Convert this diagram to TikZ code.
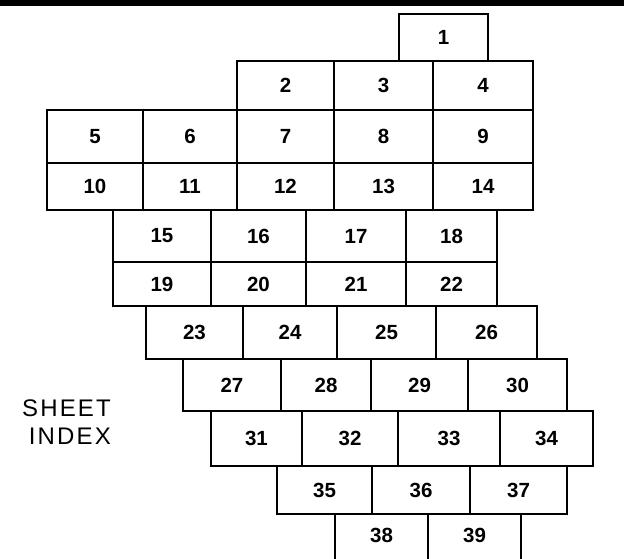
\documentclass[tikz,border=0pt]{standalone}
\usepackage{fontspec}
\setmainfont{Liberation Sans}
\begin{document}
\begin{tikzpicture}[x=1pt,y=-1pt,
  cell/.style={draw, line width=2.2pt, rectangle, inner sep=0pt, outer sep=0pt,
    font=\fontsize{20.5}{20.5}\selectfont\bfseries},
  opencell/.style={cell, draw=none},
  frame/.style={line width=2.2pt, line join=miter},
  label/.style={font=\fontsize{24}{28}\selectfont\addfontfeatures{LetterSpace=9}, align=right, inner sep=0pt}]
\useasboundingbox[fill=white] (0,0) rectangle (624,558);
\fill[black] (0,0) rectangle (624,6);
\newcommand{\sheetcell}[6][cell]{%
  \node[#1, minimum width={(#4-#3)*1pt}, minimum height={(#6-#5)*1pt}]
    (s#2) at ({(#3+#4)/2},{(#5+#6)/2}) {#2};}
% row 1
\sheetcell{1}{399}{488}{14}{61}
% row 2
\foreach \n/\a/\b in {2/237/334, 3/334/433, 4/433/533}
  {\sheetcell{\n}{\a}{\b}{61}{110}}
% rows 3 and 4
\foreach \n/\a/\b in {5/47/143, 6/143/237, 7/237/334, 8/334/433, 9/433/533}
  {\sheetcell{\n}{\a}{\b}{110}{163}}
\foreach \n/\a/\b in {10/47/143, 11/143/237, 12/237/334, 13/334/433, 14/433/533}
  {\sheetcell{\n}{\a}{\b}{163}{210}}
% rows 5 and 6
\foreach \n/\a/\b in {15/113/211, 16/211/306, 17/306/406, 18/406/497}
  {\sheetcell{\n}{\a}{\b}{210}{262}}
\foreach \n/\a/\b in {19/113/211, 20/211/306, 21/306/406, 22/406/497}
  {\sheetcell{\n}{\a}{\b}{262}{306}}
% row 7
\foreach \n/\a/\b in {23/146/243, 24/243/337, 25/337/436, 26/436/537}
  {\sheetcell{\n}{\a}{\b}{306}{359}}
% row 8
\foreach \n/\a/\b in {27/183/281, 28/281/371, 29/371/468, 30/468/567}
  {\sheetcell{\n}{\a}{\b}{359}{411}}
% row 9
\foreach \n/\a/\b in {31/211/302, 32/302/398, 33/398/500, 34/500/593}
  {\sheetcell{\n}{\a}{\b}{411}{466}}
% row 10
\foreach \n/\a/\b in {35/277/372, 36/372/470, 37/470/567}
  {\sheetcell{\n}{\a}{\b}{466}{514}}
% row 11 (open at the bottom edge)
\sheetcell[opencell]{38}{335}{428}{514}{556}
\sheetcell[opencell]{39}{428}{521}{514}{556}
\coordinate (b38) at ([yshift=-4pt]s38.south west);
\coordinate (b39) at ([yshift=-4pt]s39.south west);
\coordinate (b39e) at ([yshift=-4pt]s39.south east);
\draw[frame] (b38) -- (s38.north west) -- (s39.north east) -- (b39e);
\draw[frame] (s39.north west) -- (b39);
% title
\node[label, anchor=east] (title) at (111,422) {SHEET\\INDEX};
\end{tikzpicture}
\end{document}
